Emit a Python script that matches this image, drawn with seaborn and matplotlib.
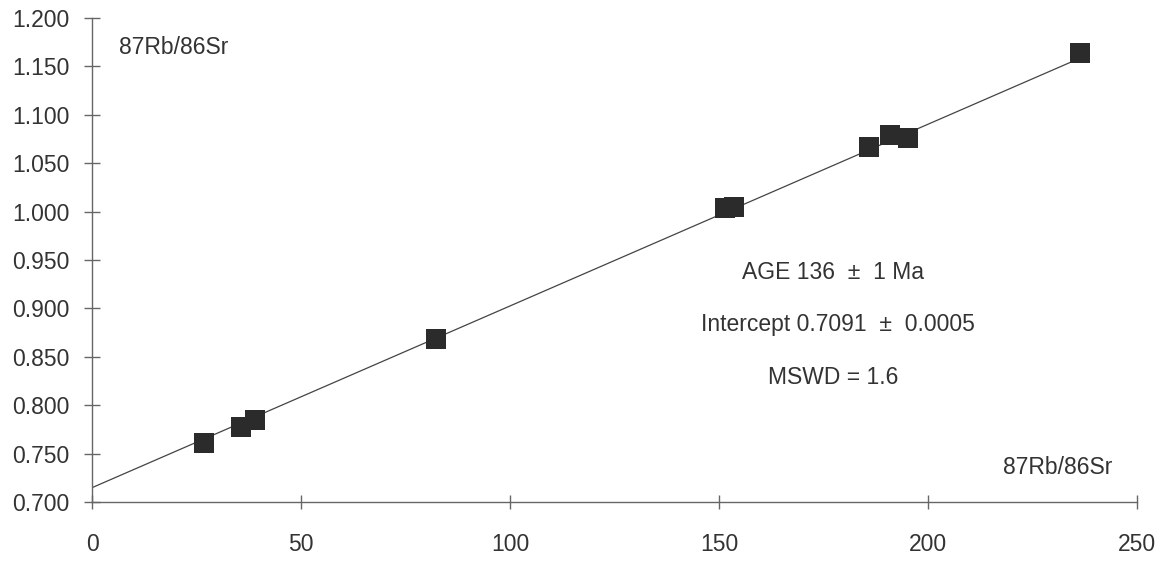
import matplotlib
matplotlib.use("Agg")
import matplotlib.pyplot as plt
import seaborn as sns
import pandas as pd

# Data
rb_sr = [26.8, 35.6, 39.0, 82.3, 151.5, 153.5, 185.9, 190.9, 195.2, 236.4]
sr_sr = [0.761, 0.778, 0.785, 0.868, 1.004, 1.005, 1.067, 1.079, 1.076, 1.164]
line_x = [0.0, 234.5]
line_y = [0.7149, 1.1550]
x_ticks = [0, 50, 100, 150, 200, 250]
y_ticks = [0.700, 0.750, 0.800, 0.850, 0.900, 0.950, 1.000, 1.050, 1.100, 1.150, 1.200]
y_ticklabels = ["0.700", "0.750", "0.800", "0.850", "0.900", "0.950",
                "1.000", "1.050", "1.100", "1.150", "1.200"]
axis_label = "87Rb/86Sr"
notes = ["AGE 136  \u00b1  1 Ma", "Intercept 0.7091  \u00b1  0.0005", "MSWD = 1.6"]

sns.set_theme(style="white")
plt.rcParams['font.family'] = ['Liberation Sans', 'DejaVu Sans']

pts = pd.DataFrame({"x": rb_sr, "y": sr_sr})
ln = pd.DataFrame({"x": line_x, "y": line_y})

fig = plt.figure(figsize=(11.65, 5.61), dpi=100)
ax = fig.add_axes([0.079, 0.105, 0.897, 0.863])

sns.lineplot(data=ln, x="x", y="y", ax=ax, color="#444444", linewidth=0.9)
sns.scatterplot(data=pts, x="x", y="y", ax=ax, marker="s", s=200,
                color="#2b2b2b", linewidth=0, zorder=3)

ax.set_xlim(0, 250)
ax.set_ylim(0.700, 1.200)
ax.set_xticks(x_ticks)
ax.set_yticks(y_ticks)
ax.set_yticklabels(y_ticklabels)
ax.set_xlabel("")
ax.set_ylabel("")

for s in ["top", "right"]:
    ax.spines[s].set_visible(False)
for s in ["left", "bottom"]:
    ax.spines[s].set_color("#666666")
    ax.spines[s].set_linewidth(1.0)

fs = 16.5
ax.tick_params(axis="y", direction="inout", length=12, width=1, color="#666666",
               labelsize=fs, labelcolor="#333333", pad=10, left=True)
ax.tick_params(axis="x", direction="inout", length=10, width=1, color="#666666",
               labelsize=fs, labelcolor="#333333", pad=17, bottom=True)

ax.text(6.5, 1.169, axis_label, fontsize=fs, color="#333333", va="center", ha="left")
ax.text(218, 0.736, axis_label, fontsize=fs, color="#333333", va="center", ha="left")

ax.text(177.3, 0.9376, notes[0], fontsize=fs, color="#333333", ha="center", va="center")
ax.text(178.5, 0.883, notes[1], fontsize=fs, color="#333333", ha="center", va="center")
ax.text(177.3, 0.829, notes[2], fontsize=fs, color="#333333", ha="center", va="center")

fig.savefig("out.png", dpi=100)
